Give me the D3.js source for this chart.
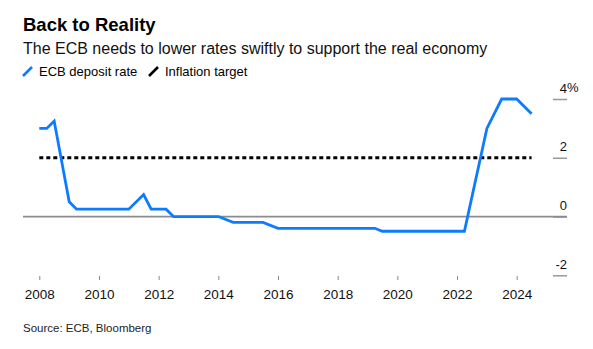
<!DOCTYPE html>
<html>
<head>
<meta charset="utf-8">
<script src="https://cdn.jsdelivr.net/npm/d3@7"></script>
<style>
  body { margin: 0; background: #fff; }
  text { font-family: "Liberation Sans", Arial, sans-serif; }
</style>
</head>
<body>
<div id="chart"></div>
<script>
// ECB deposit rate (vertices of the line)
const rateDates  = ["2008-01","2008-04","2008-07","2009-01","2009-04","2011-01","2011-07","2011-10",
                    "2012-04","2012-07","2014-01","2014-07","2015-07","2016-01","2019-04","2019-07",
                    "2022-04","2023-01","2023-07","2024-01","2024-07"];
const rateValues = [3.0, 3.0, 3.25, 0.5, 0.25, 0.25, 0.75, 0.25,
                    0.25, 0, 0, -0.2, -0.2, -0.4, -0.4, -0.5,
                    -0.5, 3.0, 4.0, 4.0, 3.5];
const targetDates  = ["2008-01", "2024-07"];
const targetValues = [2, 2];
const xTickYears = [2008, 2010, 2012, 2014, 2016, 2018, 2020, 2022, 2024];
const yTicks = [-2, 0, 2, 4];

const W = 593, H = 349;
const parse = d3.timeParse("%Y-%m");

var svg = d3.select("#chart").append("svg")
  .attr("width", W).attr("height", H);

var x = d3.scaleTime()
  .domain([new Date(2008, 0, 1), new Date(2024, 0, 1)])
  .range([39.3, 516.7]);
var y = d3.scaleLinear().domain([-2, 4]).range([275.3, 99]);

// titles
svg.append("text").attr("x", 23).attr("y", 31)
  .style("font-size", "18.5px").style("font-weight", "bold").text("Back to Reality");
svg.append("text").attr("x", 23).attr("y", 54)
  .style("font-size", "16px").attr("fill", "#111")
  .text("The ECB needs to lower rates swiftly to support the real economy");

// legend
svg.append("line").attr("x1", 23).attr("y1", 76).attr("x2", 32).attr("y2", 67)
  .attr("stroke", "#0d7bff").attr("stroke-width", 2.6);
svg.append("text").attr("x", 39).attr("y", 76).style("font-size", "13px").text("ECB deposit rate");
svg.append("line").attr("x1", 149).attr("y1", 76).attr("x2", 158).attr("y2", 67)
  .attr("stroke", "#000").attr("stroke-width", 2.6);
svg.append("text").attr("x", 165).attr("y", 76).style("font-size", "13px").text("Inflation target");

// y axis on the right
var yAxis = svg.append("g")
  .attr("transform", "translate(553,0)")
  .call(d3.axisRight(y).tickValues(yTicks).tickSize(14).tickFormat(d => d));
yAxis.select(".domain").remove();
yAxis.selectAll("line").attr("stroke", "#999").attr("stroke-width", 1.5);
yAxis.selectAll("text")
  .attr("x", 14).attr("dy", -7).attr("text-anchor", "end")
  .style("font-size", "13px").attr("fill", "#111");
svg.append("text").attr("x", 567).attr("y", y(4) - 7)
  .style("font-size", "13px").attr("fill", "#111").text("%");

// zero line
svg.append("line").attr("x1", 23).attr("x2", 567)
  .attr("y1", y(0)).attr("y2", y(0))
  .attr("stroke", "#8c8c8c").attr("stroke-width", 1.8);

// x axis
var xAxis = svg.append("g")
  .attr("transform", "translate(0,276)")
  .call(d3.axisBottom(x)
    .tickValues(xTickYears.map(d => new Date(d, 0, 1)))
    .tickSize(4).tickFormat(d3.timeFormat("%Y")));
xAxis.select(".domain").remove();
xAxis.selectAll("line").attr("stroke", "#888");
xAxis.selectAll("text").attr("y", 13).style("font-size", "13.5px").attr("fill", "#111");

// lines
var line = d3.line()
  .x(d => x(d.date))
  .y(d => y(d.value));

var target = targetDates.map((d, i) => ({date: parse(d), value: targetValues[i]}));
svg.append("path").datum(target)
  .attr("fill", "none").attr("stroke", "#000").attr("stroke-width", 2.8)
  .attr("stroke-dasharray", "4,3")
  .attr("d", line);

var rate = rateDates.map((d, i) => ({date: parse(d), value: rateValues[i]}));
svg.append("path").datum(rate)
  .attr("fill", "none").attr("stroke", "#0d7bff").attr("stroke-width", 2.8)
  .attr("stroke-linejoin", "miter")
  .attr("d", line);

// source
svg.append("text").attr("x", 23).attr("y", 332)
  .style("font-size", "11.5px").attr("fill", "#222").text("Source: ECB, Bloomberg");
</script>
</body>
</html>
